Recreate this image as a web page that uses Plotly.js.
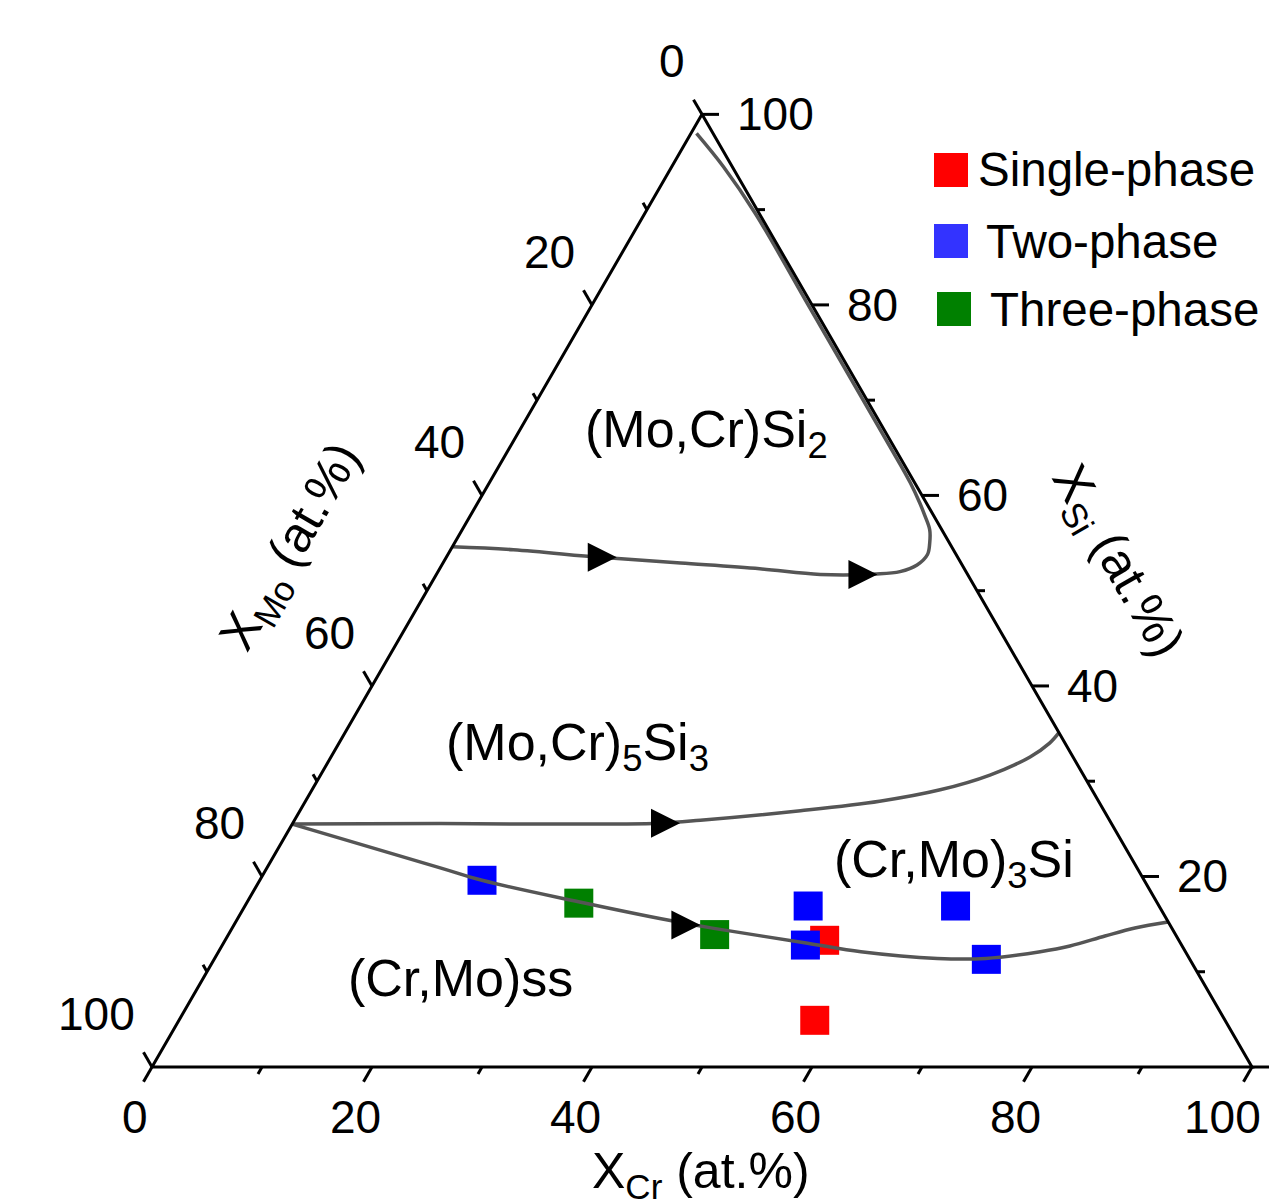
<!DOCTYPE html>
<html><head><meta charset="utf-8">
<script src="https://cdn.plot.ly/plotly-3.0.1.min.js"></script>
<style>html,body{margin:0;padding:0;background:#fff}</style>
</head><body><div id="chart" style="width:1285px;height:1204px"></div>
<script>
// ---------------- data (at.%) : Cr and Si, Mo = 100 - Cr - Si ----------------
const seriesNames = ['Single-phase', 'Two-phase', 'Three-phase'];
const singleCr = [54.5, 57.8];
const singleSi = [13.3, 4.9];
const twoCr = [20.2, 51.2, 53.0, 64.6, 70.2];
const twoSi = [19.6, 16.9, 12.8, 16.9, 11.3];
const threeCr = [30.2, 44.2];
const threeSi = [17.2, 13.9];

// univariant lines
const curve1Cr = [0, 5.7, 14.0, 21.6, 29.1, 34.9, 40.0, 42.0, 43.2, 43.6, 43.2, 42.5, 41.3, 40.2, 38.3, 36.25, 29.65, 19.65, 10.05, 4.7, 0.5];
const curve1Si = [54.6, 54.3, 53.5, 52.9, 52.3, 51.7, 51.75, 52.0, 52.7, 53.8, 55.0, 56.4, 57.9, 59.2, 61.3, 63.4, 70.0, 80.0, 89.6, 94.5, 98.0];
const curve2Cr = [0, 13.4, 23.4, 33.4, 36.9, 45.5, 52.2, 57.1, 60.85, 63.55, 64.6, 64.9];
const curve2Si = [25.5, 25.55, 25.5, 25.6, 25.9, 26.9, 27.9, 29.1, 30.65, 32.55, 34.0, 35.1];
const curve3Cr = [0, 15.75, 20.2, 30.1, 39.3, 43.8, 53.1, 58.4, 65.7, 70.1, 74.7, 77.1, 79.76, 82.06, 84.75];
const curve3Si = [25.5, 20.9, 19.6, 17.35, 15.4, 14.55, 13.0, 12.1, 11.4, 11.4, 12.1, 12.7, 13.75, 14.59, 15.22];
// arrow tips on the lines
const arrowCr = [15.5, 40.1, 35.2, 42.4];
const arrowSi = [53.5, 51.7, 25.6, 14.9];

const tickValues = [0, 10, 20, 30, 40, 50, 60, 70, 80, 90, 100];
const majorTickValues = [0, 20, 40, 60, 80, 100];
const regionTexts = ['(Mo,Cr)Si<sub>2</sub>', '(Mo,Cr)<sub>5</sub>Si<sub>3</sub>', '(Cr,Mo)<sub>3</sub>Si', '(Cr,Mo)ss'];
const axisTitles = {
  cr: 'X<sub>Cr</sub> (at.%)',
  mo: 'X<sub>Mo</sub> (at.%)',
  si: 'X<sub>Si</sub> (at.%)'
};

// ---------------- layout helpers ----------------
const W = 1285, H = 1204;
const PX = 11;            // pixels per composition unit
const X0 = 152, Y0 = 1067; // pixel of the Mo corner
const S3 = Math.sqrt(3) / 2;
const FONT = 'Liberation Sans, Arial, Helvetica, sans-serif';
const toX = (cr, si) => cr + si / 2;
const toY = (si) => si * S3;
const pxX = (p) => (p - X0) / PX;
const pxY = (p) => (Y0 - p) / PX;
const paperX = (p) => p / W;
const paperY = (p) => 1 - p / H;

function xy(crArr, siArr) {
  return { x: crArr.map((c, i) => toX(c, siArr[i])), y: siArr.map(toY) };
}

const traces = [];
const markerColors = ['#ff0000', '#0000ff', '#008000'];
[[singleCr, singleSi], [twoCr, twoSi], [threeCr, threeSi]].forEach((d, i) => {
  const p = xy(d[0], d[1]);
  traces.push({
    type: 'scatter', mode: 'markers', name: seriesNames[i], x: p.x, y: p.y,
    marker: { symbol: 'square', size: 29, color: markerColors[i], line: { width: 0 } },
    hoverinfo: 'skip'
  });
});

[[curve1Cr, curve1Si], [curve2Cr, curve2Si], [curve3Cr, curve3Si]].forEach(d => {
  const p = xy(d[0], d[1]);
  traces.push({
    type: 'scatter', mode: 'lines', x: p.x, y: p.y,
    line: { color: '#555555', width: 3.5, shape: 'spline', smoothing: 1 },
    hoverinfo: 'skip'
  });
});

const ap = xy(arrowCr, arrowSi);
traces.push({
  type: 'scatter', mode: 'markers', x: ap.x, y: ap.y,
  marker: { symbol: 'arrow-right', size: 29, color: '#000000', line: { width: 0 } },
  hoverinfo: 'skip'
});

// triangle frame
const fr = xy([0, 100, 0, 0], [0, 0, 100, 0]);
traces.push({
  type: 'scatter', mode: 'lines', x: fr.x, y: fr.y,
  line: { color: '#000000', width: 3 }, hoverinfo: 'skip'
});

// ticks (drawn along the grid directions, pointing outward)
const majorLen = 17 / PX, minorLen = 8 / PX;
const tx = [], ty = [];
function seg(x0, y0, dx, dy, len) { tx.push(x0, x0 + dx * len, null); ty.push(y0, y0 + dy * len, null); }
tickValues.forEach(v => {
  const len = majorTickValues.includes(v) ? majorLen : minorLen;
  seg(toX(v, 0), toY(0), -0.5, -S3, len);            // Cr axis (bottom)
  seg(toX(0, 100 - v), toY(100 - v), -0.5, S3, len);  // Mo axis (left)
  seg(toX(100 - v, v), toY(v), 1, 0, len);            // Si axis (right)
});
traces.push({
  type: 'scatter', mode: 'lines', x: tx, y: ty,
  line: { color: '#000000', width: 3 }, hoverinfo: 'skip'
});

// ---------------- annotations ----------------
const ann = [];
const tickFont = { family: FONT, size: 46, color: '#000' };
majorTickValues.forEach(v => {
  const label = String(v);
  ann.push({ x: toX(v, 0), y: toY(0), xref: 'x', yref: 'y', text: label, showarrow: false,
    xanchor: 'center', yanchor: 'middle', xshift: label.length > 2 ? -30 : -17, yshift: -50, font: tickFont });
  ann.push({ x: toX(0, 100 - v), y: toY(100 - v), xref: 'x', yref: 'y', text: label, showarrow: false,
    xanchor: 'right', yanchor: 'middle', xshift: -15, yshift: 53, font: tickFont });
  if (v > 0) ann.push({ x: toX(100 - v, v), y: toY(v), xref: 'x', yref: 'y', text: label, showarrow: false,
    xanchor: 'left', yanchor: 'middle', xshift: 33, yshift: 0, font: tickFont });
});

const regionFont = { family: FONT, size: 52, color: '#000' };
const regionPos = [[706, 433], [577, 746], [954, 863], [460, 978]];
regionTexts.forEach((t, i) => {
  ann.push({ x: paperX(regionPos[i][0]), y: paperY(regionPos[i][1]), xref: 'paper', yref: 'paper',
    text: t, showarrow: false, xanchor: 'center', yanchor: 'middle', font: regionFont });
});

const titleFont = { family: FONT, size: 50, color: '#000' };
ann.push({ x: paperX(701), y: paperY(1141), xref: 'paper', yref: 'paper', text: axisTitles.cr,
  showarrow: false, xanchor: 'center', yanchor: 'top', font: titleFont });
ann.push({ x: paperX(292), y: paperY(548), xref: 'paper', yref: 'paper', text: axisTitles.mo,
  showarrow: false, xanchor: 'center', yanchor: 'middle', textangle: -60, font: titleFont });
ann.push({ x: paperX(1116), y: paperY(562), xref: 'paper', yref: 'paper', text: axisTitles.si,
  showarrow: false, xanchor: 'center', yanchor: 'middle', textangle: 60, font: titleFont });

// ---------------- legend (large swatches) ----------------
const legendSwatch = ['#ff0000', '#3333ff', '#008000'];
const legendCY = [170, 241, 309];
const legendSX = [951, 951, 954];
const legendTX = [976, 984, 988];
const SW = 34;
const shapes = [];
seriesNames.forEach((n, i) => {
  shapes.push({ type: 'rect', xref: 'paper', yref: 'paper',
    x0: paperX(legendSX[i] - SW / 2), x1: paperX(legendSX[i] + SW / 2),
    y0: paperY(legendCY[i] + SW / 2), y1: paperY(legendCY[i] - SW / 2),
    fillcolor: legendSwatch[i], line: { width: 0 } });
  ann.push({ x: paperX(legendTX[i]), y: paperY(legendCY[i]), xref: 'paper', yref: 'paper', text: n,
    showarrow: false, xanchor: 'left', yanchor: 'middle', font: { family: FONT, size: 47.5, color: '#000' } });
});

const layout = {
  width: W, height: H,
  margin: { l: 0, r: 0, t: 0, b: 0, pad: 0 },
  paper_bgcolor: '#ffffff', plot_bgcolor: '#ffffff',
  showlegend: false,
  xaxis: { range: [pxX(0), pxX(W)], visible: false },
  yaxis: { range: [pxY(H), pxY(0)], visible: false },
  font: { family: FONT, color: '#000' },
  annotations: ann,
  shapes: shapes
};

Plotly.newPlot('chart', traces, layout, { displayModeBar: false, staticPlot: true });
</script>
</body></html>
